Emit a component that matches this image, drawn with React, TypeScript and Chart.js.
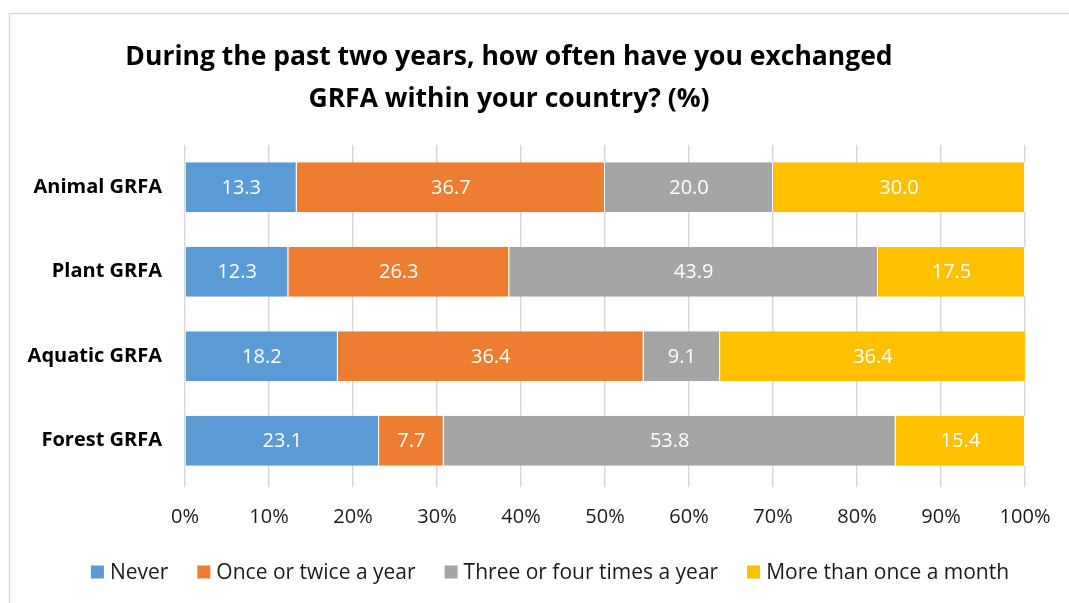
import React, { useEffect, useRef } from "react";
import { Chart, registerables } from "chart.js";

Chart.register(...registerables);

const categories = ["Animal GRFA", "Plant GRFA", "Aquatic GRFA", "Forest GRFA"];
const seriesNames = ["Never", "Once or twice a year", "Three or four times a year", "More than once a month"];
const never = [13.3, 12.3, 18.2, 23.1];
const onceTwice = [36.7, 26.3, 36.4, 7.7];
const threeFour = [20.0, 43.9, 9.1, 53.8];
const moreThanMonthly = [30.0, 17.5, 36.4, 15.4];
const colors = ["#5B9BD5", "#ED7D31", "#A5A5A5", "#FFC000"];
const titleLines = ["During the past two years, how often have you exchanged", "GRFA within your country? (%)"];
const xTicks = [0, 10, 20, 30, 40, 50, 60, 70, 80, 90, 100];

const FONT = "'Open Sans', sans-serif";

const framePlugin = {
  id: "frame",
  beforeDraw(chart: any) {
    const ctx = chart.ctx;
    ctx.save();
    ctx.fillStyle = "#ffffff";
    ctx.fillRect(0, 0, chart.width, chart.height);
    ctx.strokeStyle = "#D9D9D9";
    ctx.lineWidth = 1.5;
    ctx.strokeRect(9.5, 13.5, chart.width + 20, chart.height + 20);
    ctx.restore();
  },
};

const titlePlugin = {
  id: "customTitle",
  afterDraw(chart: any) {
    const ctx = chart.ctx;
    ctx.save();
    ctx.font = `bold 26.5px ${FONT}`;
    ctx.fillStyle = "#000000";
    ctx.textAlign = "center";
    ctx.textBaseline = "middle";
    ctx.fillText(titleLines[0], 509, 57);
    ctx.fillText(titleLines[1], 509, 99);
    ctx.restore();
  },
};

const valueLabelPlugin = {
  id: "valueLabels",
  afterDatasetsDraw(chart: any) {
    const ctx = chart.ctx;
    ctx.save();
    ctx.font = `20px ${FONT}`;
    ctx.fillStyle = "#ffffff";
    ctx.textAlign = "center";
    ctx.textBaseline = "middle";
    chart.data.datasets.forEach((ds: any, i: number) => {
      const meta = chart.getDatasetMeta(i);
      meta.data.forEach((el: any, j: number) => {
        const v = ds.data[j];
        const cx = (el.x + el.base) / 2;
        ctx.fillText(Number(v).toFixed(1), cx, el.y + 1);
      });
    });
    ctx.restore();
  },
};

const legendPlugin = {
  id: "customLegend",
  afterDraw(chart: any) {
    const ctx = chart.ctx;
    ctx.save();
    ctx.font = `21px ${FONT}`;
    ctx.textBaseline = "middle";
    ctx.textAlign = "left";
    const box = 13;
    const gapText = 6;
    const gapItem = 29;
    const widths = seriesNames.map((n) => box + gapText + ctx.measureText(n).width);
    const total = widths.reduce((a, b) => a + b, 0) + gapItem * (seriesNames.length - 1);
    let x = 550 - total / 2;
    const y = 572;
    seriesNames.forEach((n, i) => {
      ctx.fillStyle = colors[i];
      ctx.fillRect(x, y - box / 2, box, box);
      ctx.fillStyle = "#1a1a1a";
      ctx.fillText(n, x + box + gapText, y + 1);
      x += widths[i] + gapItem;
    });
    ctx.restore();
  },
};

export default function App() {
  const ref = useRef<HTMLCanvasElement>(null);
  useEffect(() => {
    if (!ref.current) return;
    const series = [never, onceTwice, threeFour, moreThanMonthly];
    const chart = new Chart(ref.current, {
      type: "bar",
      data: {
        labels: categories,
        datasets: series.map((d, i) => ({
          label: seriesNames[i],
          data: d,
          backgroundColor: colors[i],
          borderColor: "#ffffff",
          borderWidth: { top: 0, bottom: 0, left: 0, right: 1 },
          borderSkipped: false,
          barPercentage: 0.59,
          categoryPercentage: 1,
        })),
      },
      options: {
        indexAxis: "y",
        responsive: false,
        animation: false,
        layout: { padding: { left: 0, right: 44, top: 145, bottom: 60 } },
        plugins: {
          legend: { display: false },
          title: { display: false },
          tooltip: { enabled: false },
        },
        scales: {
          x: {
            stacked: true,
            min: 0,
            max: 100,
            afterBuildTicks(axis: any) {
              axis.ticks = xTicks.map((v) => ({ value: v }));
            },
            afterFit(axis: any) {
              axis.height = 60;
            },
            grid: { color: "#D9D9D9", lineWidth: 1.5, drawTicks: true, tickLength: 4 },
            border: { display: false },
            ticks: {
              callback: (v: any) => `${v}%`,
              font: { family: FONT, size: 20 },
              color: "#1a1a1a",
              padding: 18,
              maxRotation: 0,
            },
          },
          y: {
            stacked: true,
            afterFit(axis: any) {
              axis.width = 185;
            },
            grid: { display: false, drawTicks: false },
            border: { display: false },
            ticks: {
              font: { family: FONT, size: 20, weight: "bold" },
              color: "#000000",
              padding: 23,
            },
          },
        },
      },
      plugins: [framePlugin, titlePlugin, valueLabelPlugin, legendPlugin],
    } as any);
    return () => chart.destroy();
  }, []);
  return (
    <div style={{ position: "absolute", left: 0, top: 0, width: 1069, height: 603 }}>
      <canvas ref={ref} width={1069} height={603} />
    </div>
  );
}
